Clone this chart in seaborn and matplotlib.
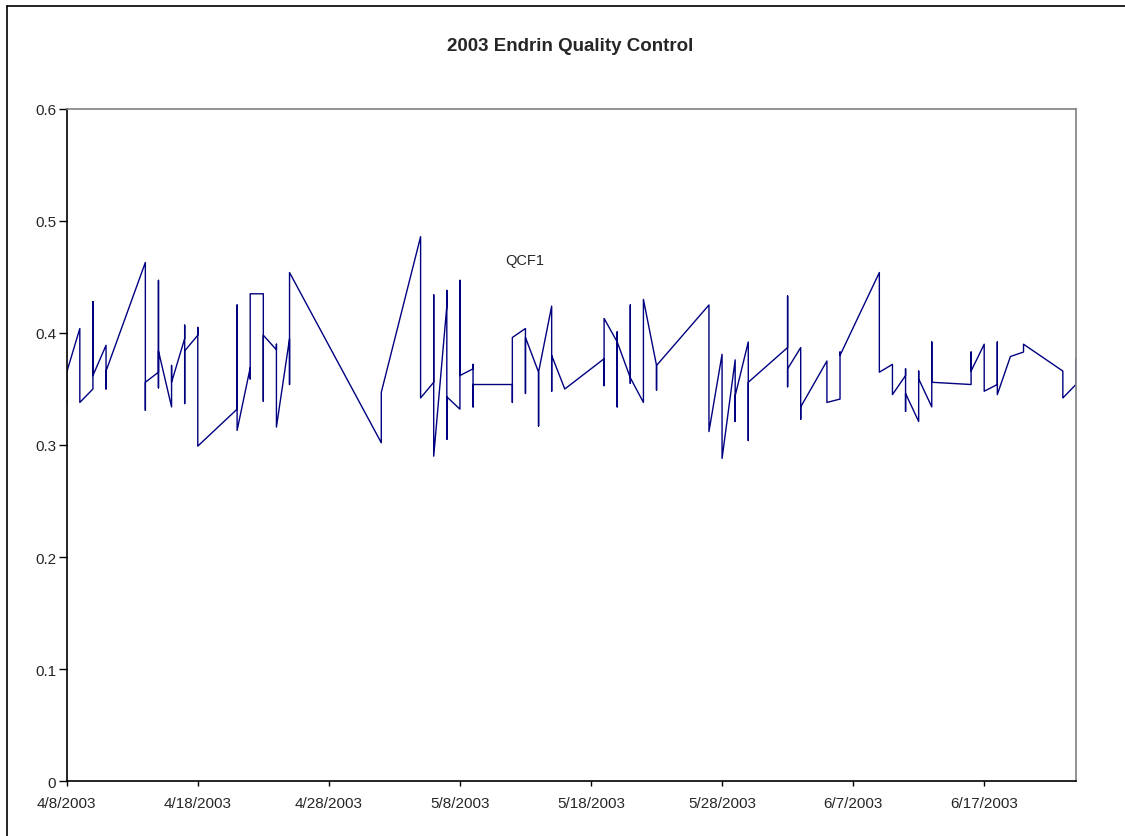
import pandas as pd
import matplotlib
matplotlib.use('Agg')
import matplotlib.pyplot as plt
from matplotlib.lines import Line2D
import seaborn as sns

# QC run dates and the endrin readings recorded on each date (in run order)
run_dates = ['2003-04-08', '2003-04-09', '2003-04-10', '2003-04-11', '2003-04-14',
             '2003-04-15', '2003-04-16', '2003-04-17', '2003-04-18', '2003-04-21',
             '2003-04-22', '2003-04-23', '2003-04-24', '2003-04-25', '2003-05-02',
             '2003-05-05', '2003-05-06', '2003-05-07', '2003-05-08', '2003-05-09',
             '2003-05-12', '2003-05-13', '2003-05-14', '2003-05-15', '2003-05-16',
             '2003-05-19', '2003-05-20', '2003-05-21', '2003-05-22', '2003-05-23',
             '2003-05-27', '2003-05-28', '2003-05-29', '2003-05-30', '2003-06-02',
             '2003-06-03', '2003-06-05', '2003-06-06', '2003-06-09', '2003-06-10',
             '2003-06-11', '2003-06-12', '2003-06-13', '2003-06-16', '2003-06-17',
             '2003-06-18', '2003-06-19', '2003-06-20', '2003-06-23', '2003-06-24']
run_values = [
    [0.337, 0.365], [0.404, 0.338], [0.350, 0.428, 0.362], [0.389, 0.350, 0.366],
    [0.463, 0.331, 0.356], [0.365, 0.447, 0.351, 0.384], [0.334, 0.371, 0.356],
    [0.395, 0.407, 0.337, 0.384], [0.398, 0.405, 0.299], [0.332, 0.425, 0.313],
    [0.369, 0.359, 0.435], [0.435, 0.339, 0.398], [0.385, 0.390, 0.316],
    [0.395, 0.354, 0.454], [0.302, 0.347], [0.486, 0.342], [0.356, 0.434, 0.290],
    [0.424, 0.438, 0.305, 0.343], [0.332, 0.447, 0.362], [0.368, 0.372, 0.334, 0.354],
    [0.354, 0.338, 0.396], [0.404, 0.346, 0.396], [0.365, 0.317, 0.365],
    [0.424, 0.348, 0.380], [0.350], [0.377, 0.353, 0.413], [0.392, 0.401, 0.334, 0.392],
    [0.360, 0.425, 0.355, 0.360], [0.338, 0.430], [0.371, 0.349, 0.371],
    [0.425, 0.366, 0.312], [0.381, 0.288], [0.376, 0.321, 0.344], [0.392, 0.304, 0.356],
    [0.387, 0.433, 0.352, 0.368], [0.387, 0.323, 0.334], [0.375, 0.359, 0.338],
    [0.341, 0.383, 0.380], [0.454, 0.365], [0.372, 0.345], [0.362, 0.368, 0.330, 0.346],
    [0.321, 0.366, 0.359], [0.334, 0.392, 0.356], [0.354, 0.383, 0.366], [0.390, 0.348],
    [0.354, 0.392, 0.345], [0.379], [0.383, 0.390], [0.366, 0.342], [0.354, 0.377],
]
series_name = 'QCF1'

# Flatten into one row per reading, keeping run order
rows = []
for d, vals in zip(run_dates, run_values):
    for v in vals:
        rows.append({'date': pd.Timestamp(d), 'endrin': v})
df = pd.DataFrame(rows)

sns.set_style('white')
plt.rcParams['font.family'] = ['Liberation Sans', 'DejaVu Sans']

fig = plt.figure(figsize=(11.25, 8.37), dpi=100)
ax = fig.add_axes([0.0593, 0.0657, 0.8971, 0.8029])

sns.lineplot(data=df, x='date', y='endrin', sort=False, estimator=None,
             color='#000080', linewidth=1.0, ax=ax)

ax.set_xlim(pd.Timestamp('2003-04-08'), pd.Timestamp('2003-06-24'))
ax.set_ylim(0, 0.6)
ax.set_yticks([0, 0.1, 0.2, 0.3, 0.4, 0.5, 0.6])
ax.set_yticklabels(['0', '0.1', '0.2', '0.3', '0.4', '0.5', '0.6'])
xt = pd.date_range('2003-04-08', '2003-06-17', freq='10D')
ax.set_xticks(xt)
ax.set_xticklabels([f'{t.month}/{t.day}/{t.year}' for t in xt])
ax.tick_params(axis='y', direction='out', length=6, width=1, color='black',
               labelsize=11, pad=1.5, left=True)
ax.tick_params(axis='x', direction='out', length=3.5, width=1, color='black',
               labelsize=11, pad=7, bottom=True)
ax.set_xlabel('')
ax.set_ylabel('')

for side in ['left', 'bottom']:
    ax.spines[side].set_color('black')
    ax.spines[side].set_linewidth(1.2)
for side in ['top', 'right']:
    ax.spines[side].set_color('#808080')
    ax.spines[side].set_linewidth(1.2)

ax.text(0.454, 0.775, series_name, transform=ax.transAxes, ha='center', va='center',
        fontsize=10.5)

fig.text(0.507, 0.945, '2003 Endrin Quality Control', ha='center', va='center',
         fontsize=13.5, fontweight='bold')

# chart area frame (left and top edges only are visible)
fig.lines.append(Line2D([0.0065, 0.0065], [0.0, 0.992], transform=fig.transFigure,
                        color='black', linewidth=1.2))
fig.lines.append(Line2D([0.0065, 1.0], [0.992, 0.992], transform=fig.transFigure,
                        color='black', linewidth=1.2))

plt.savefig('out.png', dpi=100)
